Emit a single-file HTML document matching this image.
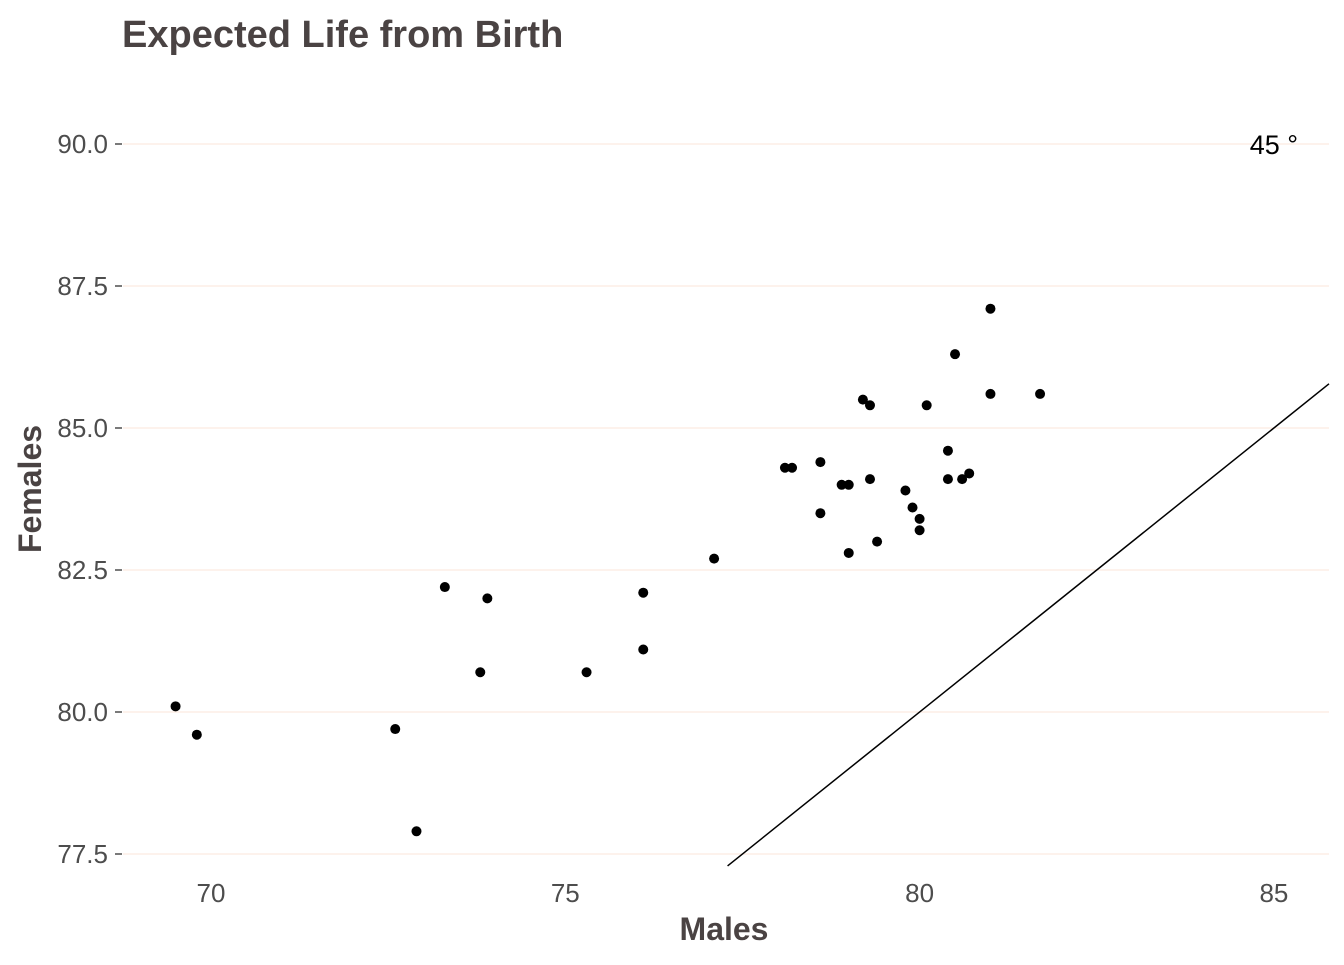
<!DOCTYPE html>
<html><head><meta charset="utf-8"><style>
body{margin:0;background:#fff;font-family:"Liberation Sans",sans-serif;}
</style></head><body>
<svg id="chart" width="1344" height="960">
<text x="122" y="47" font-size="38" font-weight="bold" fill="#4a4343">Expected Life from Birth</text>
<g id="grid"></g><g id="axes"></g><g id="marks"></g>
<text x="724" y="940" font-size="32" font-weight="bold" fill="#4a4343" text-anchor="middle">Males</text>
<text transform="translate(41,489) rotate(-90)" font-size="32" font-weight="bold" fill="#4a4343" text-anchor="middle">Females</text>
</svg>
<script>
const males=[69.5,69.8,72.6,72.9,73.3,73.8,73.9,75.3,76.1,76.1,77.1,78.1,78.2,78.6,78.6,78.9,79.0,79.0,79.2,79.3,79.3,79.4,79.8,79.9,80.0,80.0,80.1,80.4,80.4,80.5,80.6,80.7,81.0,81.0,81.7];
const females=[80.1,79.6,79.7,77.9,82.2,80.7,82.0,80.7,82.1,81.1,82.7,84.3,84.3,84.4,83.5,84.0,84.0,82.8,85.5,85.4,84.1,83.0,83.9,83.6,83.4,83.2,85.4,84.6,84.1,86.3,84.1,84.2,87.1,85.6,85.6];
const xTicks=[70,75,80,85];
const yTicks=[77.5,80.0,82.5,85.0,87.5,90.0];
const ns="http://www.w3.org/2000/svg";
const X0=123,X1=1329;
const sx=v=>211+(v-70)*70.86;
const sy=v=>712-(v-80)*56.8;
function mk(t,a,p){const e=document.createElementNS(ns,t);for(const k in a)e.setAttribute(k,a[k]);p.appendChild(e);return e;}
const grid=document.getElementById('grid'),axes=document.getElementById('axes'),marks=document.getElementById('marks');
yTicks.forEach(v=>{
 const l=mk('line',{x1:X0,x2:X1,y1:sy(v),y2:sy(v),stroke:'#fbe6d8','stroke-width':1},grid);
 
 
 const t=mk('line',{x1:115,x2:122,y1:sy(v),y2:sy(v),stroke:'#4d4d4d','stroke-width':1.5},axes);
 
 
 const tx=mk('text',{x:108,y:sy(v)+9,'font-size':26,fill:'#4d4d4d','text-anchor':'end'},axes);
 tx.textContent=v.toFixed(1);
 
 
});
xTicks.forEach(v=>{
 const tx=mk('text',{x:sx(v),y:902,'font-size':26,fill:'#4d4d4d','text-anchor':'middle'},axes);
 tx.textContent=v;
 
 
});
const lo=77.29, hi=77.29+(X1-sx(77.29))/70.86;
const ln=mk('line',{x1:sx(lo),y1:sy(lo),x2:X1,y2:sy(hi),stroke:'#000','stroke-width':1.5},marks);


males.forEach((m,i)=>{
 const c=mk('circle',{cx:sx(m),cy:sy(females[i]),r:5,fill:'#000'},marks);
 
 
});
const an=mk('text',{x:sx(85),y:sy(90)+10,'font-size':27,fill:'#000','text-anchor':'middle'},marks);
an.textContent='45 °';


</script>
</body></html>
